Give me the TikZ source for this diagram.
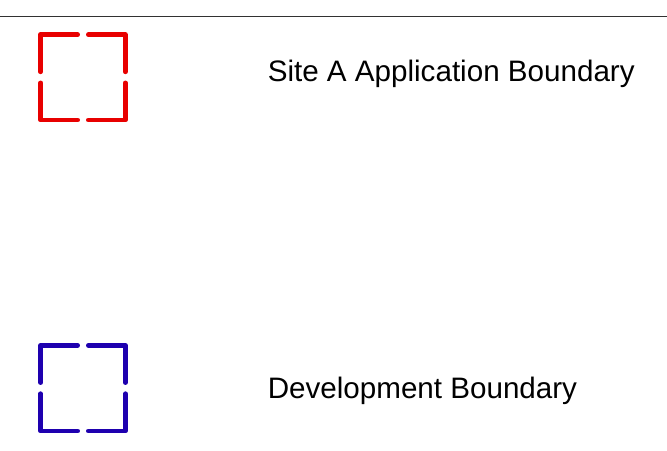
\documentclass[tikz,border=0pt]{standalone}
\usepackage{fontspec}
\setmainfont{Liberation Sans}
\definecolor{bndred}{RGB}{232,0,0}
\definecolor{bndblue}{RGB}{30,0,175}
\definecolor{rulegray}{RGB}{50,50,50}
\tikzset{
  bndline/.style={line width=3.6pt, line cap=round, line join=round},
  legendtext/.style={anchor=base west, inner sep=0pt, font=\fontsize{22.2pt}{26pt}\selectfont}
}
% draws a square boundary symbol of four corner pieces
\newcommand{\bndsquare}[5]{% color, x1, y1, x2, y2
  \pgfmathsetmacro{\mx}{(#2+#4)/2}
  \pgfmathsetmacro{\my}{(#3+#5)/2}
  \draw[bndline,#1] (\mx-5.4,#3) -- (#2,#3) -- (#2,\my-5.6);
  \draw[bndline,#1] (\mx+5.4,#3) -- (#4,#3) -- (#4,\my-5.6);
  \draw[bndline,#1] (#2,\my+5.6) -- (#2,#5) -- (\mx-5.4,#5);
  \draw[bndline,#1] (#4,\my+5.6) -- (#4,#5) -- (\mx+5.4,#5);
}
\begin{document}
\begin{tikzpicture}[x=0.75pt,y=-0.75pt]
\useasboundingbox (0,0) rectangle (667,450);
\coordinate (ruleL) at (0,16.7);
\coordinate (ruleR) at (667,16.7);
\draw[rulegray, line width=1.1pt] (ruleL) -- (ruleR);
\bndsquare{bndred}{40.7}{34.7}{125.3}{120}
\bndsquare{bndblue}{40.7}{345.3}{125.3}{431}
\node[legendtext] (siteA) at (267.5,81) {Site A Application Boundary};
\node[legendtext] (devB) at (267.5,398) {Development Boundary};
\end{tikzpicture}
\end{document}
